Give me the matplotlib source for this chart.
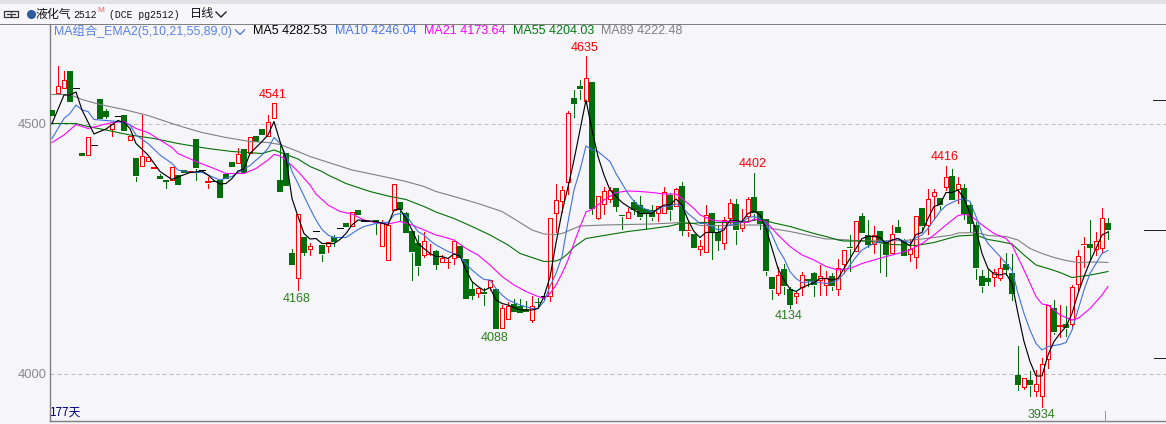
# -*- coding: utf-8 -*-
#%%
import matplotlib
matplotlib.use("Agg")
import matplotlib.pyplot as plt
from matplotlib.lines import Line2D
from matplotlib.patches import Rectangle

#%% ================= DATA =================
# Daily candles

opens = [4527,4562,4572,4605,4572,4440,4438,4458,4549,4525,
         4490,4516,4517,4468,4431,4416,4426,4408,4395,4386,
         4388,4397,4406,4401,4469,4407,4380,4386,4387,4398,
         4422,4422,4448,4442,4474,4489,4476,4512,4387,4440,
         4240,4192,4272,4250,4286,4257,4256,4272,4292,4301,
         4296,4327,4305,4305,4306,4256,4228,4328,4343,4321,
         4285,4260,4238,4236,4245,4224,4220,4232,4255,4229,
         4169,4162,4163,4174,4169,4092,4110,4138,4134,4128,
         4108,4142,4155,4155,4322,4346,4384,4551,4575,4545,
         4582,4312,4340,4350,4370,4316,4312,4342,4337,4328,
         4327,4322,4322,4356,4336,4375,4284,4279,4250,4244,
         4321,4282,4262,4312,4339,4292,4316,4352,4325,4309,
         4193,4161,4209,4169,4155,4174,4188,4201,4188,4178,
         4195,4169,4219,4253,4245,4315,4277,4260,4285,4262,
         4242,4292,4265,4240,4234,4330,4298,4356,4350,4374,
         4395,4370,4370,4337,4297,4195,4191,4194,4192,4219,
         4201,3997,3974,3987,3966,3956,4030,4131,4093,4098,
         4100,4180,4256,4259,4250,4252,4300]
closes = [4514,4575,4588,4542,4572,4435,4474,4458,4509,4513,
          4499,4516,4484,4476,4394,4435,4434,4412,4388,4383,
          4414,4377,4401,4404,4410,4407,4384,4386,4350,4389,
          4412,4439,4401,4474,4462,4476,4504,4541,4362,4374,
          4216,4320,4241,4256,4286,4238,4264,4262,4292,4292,
          4324,4316,4305,4305,4300,4301,4298,4380,4326,4280,
          4242,4214,4266,4238,4217,4232,4222,4265,4230,4148,
          4155,4172,4158,4188,4088,4131,4136,4122,4120,4122,
          4135,4140,4155,4312,4348,4368,4522,4539,4568,4592,
          4329,4355,4366,4368,4333,4314,4324,4326,4312,4320,
          4312,4336,4364,4326,4369,4285,4287,4250,4256,4318,
          4282,4265,4308,4342,4286,4304,4350,4320,4299,4204,
          4168,4198,4174,4137,4161,4198,4185,4176,4196,4192,
          4174,4212,4248,4250,4306,4280,4257,4278,4260,4237,
          4280,4281,4234,4250,4316,4294,4350,4364,4336,4394,
          4347,4380,4319,4299,4210,4174,4183,4204,4212,4207,
          4159,3977,3992,3976,3980,4020,4138,4082,4097,4090,
          4174,4236,4259,4251,4266,4312,4286]
highs = [4527,4615,4605,4605,4572,4440,4474,4458,4549,4529,
         4499,4516,4517,4476,4431,4517,4434,4412,4400,4386,
         4414,4397,4406,4404,4469,4407,4393,4386,4387,4398,
         4422,4452,4448,4474,4474,4489,4518,4541,4464,4440,
         4250,4320,4272,4261,4286,4257,4264,4278,4292,4301,
         4324,4327,4305,4305,4306,4308,4298,4380,4343,4323,
         4285,4278,4284,4259,4247,4238,4232,4265,4255,4229,
         4183,4172,4171,4188,4169,4138,4143,4150,4150,4146,
         4156,4151,4162,4312,4379,4375,4526,4568,4587,4635,
         4582,4355,4374,4374,4370,4316,4331,4347,4355,4328,
         4337,4336,4373,4362,4372,4383,4308,4279,4267,4337,
         4321,4298,4314,4349,4350,4330,4354,4402,4325,4309,
         4193,4213,4220,4174,4165,4204,4188,4204,4218,4205,
         4202,4230,4248,4278,4306,4322,4307,4295,4285,4268,
         4297,4307,4270,4270,4316,4330,4370,4370,4350,4416,
         4410,4394,4379,4344,4304,4208,4210,4210,4232,4242,
         4240,4055,3992,4005,4007,4032,4138,4147,4137,4135,
         4178,4248,4274,4307,4284,4332,4312]
lows = [4514,4562,4572,4542,4572,4435,4438,4458,4509,4511,
        4475,4516,4484,4468,4386,4416,4426,4408,4388,4372,
        4388,4377,4401,4401,4388,4407,4372,4386,4350,4389,
        4412,4422,4401,4442,4462,4476,4476,4512,4362,4374,
        4216,4167,4238,4238,4286,4226,4244,4255,4292,4292,
        4296,4316,4305,4305,4280,4256,4228,4328,4307,4280,
        4187,4197,4234,4236,4209,4224,4211,4220,4230,4148,
        4149,4154,4138,4167,4088,4092,4110,4122,4120,4122,
        4103,4134,4148,4145,4284,4324,4360,4513,4550,4545,
        4320,4309,4320,4344,4326,4290,4312,4320,4310,4290,
        4308,4306,4322,4307,4336,4277,4276,4250,4238,4244,
        4229,4247,4250,4298,4260,4286,4307,4308,4290,4197,
        4149,4157,4160,4132,4142,4158,4176,4155,4157,4158,
        4168,4157,4202,4205,4245,4280,4253,4242,4204,4196,
        4242,4281,4234,4226,4212,4285,4280,4310,4330,4367,
        4347,4342,4310,4284,4190,4164,4177,4176,4187,4197,
        4147,3967,3970,3955,3955,3934,4012,4079,4074,4075,
        4090,4164,4214,4228,4237,4242,4270]

# Moving average lines: candle number and price where the line was read
ma5_idx = [0,2,3,4,5,7,9,11,12,13,14,16,18,20,21,23,25,26,27,28,29,30,31,32,33,35,36,37,38,39,40,41,42,43,44,45,47,48,49,50,51,52,54,56,57,58,59,60,61,62,63,64,65,66,67,68,69,70,71,72,73,74,75,76,78,80,81,82,83,84,85,86,87,88,89,90,91,92,93,94,95,96,97,98,100,101,102,103,104,105,106,107,108,109,111,112,113,115,116,117,118,119,120,121,122,123,124,125,127,128,129,130,131,132,133,134,135,136,137,138,139,140,141,142,143,144,145,146,147,148,149,150,151,152,153,154,155,156,157,158,159,160,161,162,163,164,165,166,167,168,169,170,171,172,173,174,175,176]
ma5_val = [4500,4557,4557,4563,4527,4479,4489,4506,4502,4490,4460,4437,4404,4388,4393,4402,4405,4397,4386,4379,4380,4390,4405,4409,4440,4464,4477,4504,4464,4430,4350,4314,4280,4269,4270,4260,4260,4268,4280,4297,4307,4306,4304,4297,4327,4329,4310,4287,4260,4250,4240,4234,4234,4230,4239,4235,4207,4184,4174,4166,4172,4147,4140,4137,4127,4127,4130,4154,4193,4261,4323,4373,4427,4487,4547,4487,4434,4397,4367,4354,4342,4334,4327,4320,4320,4330,4337,4337,4349,4337,4307,4284,4272,4282,4282,4287,4307,4304,4320,4325,4317,4290,4250,4210,4187,4169,4164,4172,4182,4190,4190,4187,4190,4210,4230,4250,4270,4274,4274,4272,4260,4267,4270,4262,4256,4278,4282,4310,4334,4338,4362,4362,4367,4350,4320,4287,4240,4210,4199,4197,4200,4180,4120,4064,4024,3995,3995,4037,4064,4080,4094,4120,4160,4194,4224,4250,4277,4283]

ma10_idx = [0,2,3,4,5,6,7,9,11,13,14,16,18,20,21,23,25,26,28,30,31,33,35,36,37,38,39,40,41,43,44,45,46,47,49,50,51,52,54,55,56,57,58,59,60,61,62,63,64,66,67,68,69,70,71,72,73,74,75,76,78,80,81,82,83,84,85,86,87,88,89,90,91,92,93,94,95,96,97,98,100,101,102,103,104,105,106,107,108,109,110,111,112,113,115,116,117,118,119,120,121,122,123,124,125,127,129,130,131,132,133,134,135,136,137,138,139,141,142,143,144,145,146,147,148,149,150,151,152,153,154,155,156,158,160,161,162,163,164,165,166,167,168,169,170,171,172,173,174,175,176]
ma10_val = [4470,4510,4520,4537,4527,4524,4508,4506,4504,4497,4477,4460,4437,4420,4407,4402,4402,4397,4387,4394,4402,4416,4437,4450,4472,4460,4437,4404,4380,4330,4307,4288,4277,4272,4272,4280,4288,4294,4300,4302,4302,4317,4320,4317,4300,4284,4277,4266,4257,4244,4240,4235,4220,4207,4197,4188,4187,4170,4157,4147,4137,4130,4130,4144,4174,4200,4234,4303,4367,4407,4455,4448,4444,4434,4424,4400,4380,4360,4344,4334,4323,4328,4334,4335,4339,4334,4320,4310,4300,4300,4294,4287,4290,4298,4302,4312,4314,4310,4300,4277,4250,4230,4204,4190,4182,4184,4180,4182,4187,4200,4217,4233,4247,4254,4260,4264,4264,4270,4265,4262,4272,4277,4290,4307,4324,4336,4342,4347,4350,4344,4314,4280,4260,4234,4207,4160,4120,4087,4060,4047,4054,4056,4058,4062,4087,4127,4167,4200,4220,4240,4246]

ma21_idx = [0,2,4,6,8,10,12,14,16,18,20,21,24,27,29,32,34,36,37,38,39,41,43,44,46,48,50,52,54,56,58,60,62,64,65,67,69,71,73,75,77,79,81,82,83,84,85,86,87,88,89,90,92,94,96,98,100,102,104,105,107,108,110,112,114,116,117,119,121,123,125,127,129,131,133,135,137,139,141,143,145,147,149,151,152,153,155,157,159,160,162,164,165,166,168,170,171,173,175,176]
ma21_val = [4462,4477,4498,4490,4496,4502,4504,4490,4482,4467,4452,4440,4424,4410,4400,4400,4410,4427,4438,4435,4427,4404,4377,4359,4337,4324,4319,4307,4302,4299,4304,4297,4287,4277,4274,4267,4250,4237,4217,4194,4177,4164,4154,4150,4160,4177,4200,4227,4261,4293,4323,4328,4347,4362,4365,4364,4362,4359,4359,4350,4330,4317,4307,4304,4304,4302,4309,4304,4277,4254,4237,4227,4214,4207,4210,4220,4227,4234,4240,4247,4260,4277,4297,4316,4318,4317,4297,4280,4270,4257,4207,4154,4139,4137,4117,4107,4110,4130,4157,4174]

ma55_idx = [0,4,6,9,13,17,21,26,30,35,37,39,41,43,45,46,49,53,56,59,62,64,67,70,73,76,78,80,82,84,85,86,87,89,92,96,100,103,105,107,108,112,116,118,120,123,127,129,131,132,136,140,144,147,150,151,154,156,158,160,162,164,166,168,170,172,174,176]
ma55_val = [4500,4500,4494,4487,4477,4470,4460,4450,4444,4440,4447,4438,4429,4414,4404,4397,4380,4364,4355,4348,4334,4323,4310,4294,4277,4257,4240,4232,4224,4225,4230,4240,4253,4270,4276,4284,4290,4295,4301,4300,4302,4302,4304,4309,4302,4294,4280,4274,4267,4265,4265,4258,4256,4262,4272,4275,4277,4268,4264,4259,4237,4217,4210,4202,4192,4195,4199,4204]

ma89_idx = [0,3,5,8,12,16,21,25,29,33,36,38,41,43,50,52,56,59,62,64,67,71,75,78,80,82,84,85,86,87,88,92,100,105,107,108,112,116,118,120,123,127,129,130,134,138,142,145,147,150,151,154,156,159,161,163,165,167,169,171,174,176]
ma89_val = [4558,4558,4548,4538,4528,4516,4496,4482,4472,4464,4462,4458,4444,4434,4407,4402,4392,4384,4374,4364,4354,4340,4324,4302,4287,4279,4278,4280,4285,4290,4295,4297,4299,4302,4300,4296,4296,4297,4297,4290,4284,4274,4269,4269,4266,4265,4266,4269,4272,4277,4281,4282,4276,4274,4267,4250,4240,4232,4226,4222,4223,4222]

# High / low labels on the chart
peak_idx = [37,41,89,74,117,123,149,165]
peak_val = [4541,4168,4635,4088,4402,4134,4416,3934]
peak_up = [True,False,True,False,True,False,True,False]

price_ticks = [4000,4500]

legend_names = ["MA5 4282.53","MA10 4246.04","MA21 4173.64","MA55 4204.03","MA89 4222.48"]

#%% ================= STYLE =================

W, H = 1166, 424
BG = "#F5F5FA"
RED = "#FF0000"
GREEN = "#006F0B"
BLUE = "#3F6FDF"
MAGENTA = "#FF00FF"
LINE_GREEN = "#007000"
GREY = "#808080"
CN = ["Noto Sans CJK SC", "DejaVu Sans"]
NUM = ["Liberation Sans", "Noto Sans CJK SC"]
PX = 0.72  # one pixel in points

plt.rcParams["font.family"] = NUM

def fx(px):
    return px / W

def fy(py):
    return 1 - py / H

#%% Figure and axes

fig = plt.figure(figsize=(W / 100, H / 100), dpi=100, facecolor=BG)

ax = fig.add_axes([fx(49.5), fy(421), fx(1166 - 49.5), fy(23.5) - fy(421)])
ax.set_facecolor(BG)
ax.set_xlim((49.5 - 52) / 6, (1166 - 52) / 6)
ax.set_ylim(3905, 4700)
ax.set_xticks([])
ax.set_yticks(price_ticks)
ax.set_yticklabels([str(p) for p in price_ticks], fontsize=9.3, color="#8A8A8A")
ax.tick_params(axis="y", length=0, pad=2)
for side in ["top", "right"]:
    ax.spines[side].set_visible(False)
for side in ["left", "bottom"]:
    ax.spines[side].set_color("#808080")
    ax.spines[side].set_linewidth(1.4 * PX)

for p in price_ticks:
    ax.axhline(p, color="#BDBDBD", lw=PX, ls=(0, (4, 3)), zorder=1)

#%% Candles

for i in range(len(opens)):
    o, c, hi, lo = opens[i], closes[i], highs[i], lows[i]
    top, bot = max(o, c), min(o, c)

    if o == c:
        col = "black"
    elif c > o:
        col = RED
    else:
        col = GREEN

    if hi > top:
        ax.vlines(i, top, hi, color=col, lw=PX, zorder=2, antialiased=False)
    if lo < bot:
        ax.vlines(i, lo, bot, color=col, lw=PX, zorder=2, antialiased=False)

    if o == c:
        ax.hlines(c, i - 0.42, i + 0.42, color="black", lw=PX, zorder=3, antialiased=False)
    elif c > o and top - bot > 5:
        # hollow red body
        ax.vlines([i - 0.40, i + 0.40], bot, top, color=RED, lw=PX, zorder=3, antialiased=False)
        ax.hlines([bot, top], i - 0.40, i + 0.40, color=RED, lw=PX, zorder=3, antialiased=False)
    else:
        ax.add_patch(Rectangle((i - 0.46, bot), 0.92, top - bot, facecolor=col,
                               edgecolor="none", zorder=3, antialiased=False))

#%% Moving averages

ax.plot(ma89_idx, ma89_val, color=GREY, lw=1.1 * PX, zorder=4)
ax.plot(ma55_idx, ma55_val, color=LINE_GREEN, lw=1.1 * PX, zorder=4)
ax.plot(ma21_idx, ma21_val, color=MAGENTA, lw=1.1 * PX, zorder=4)
ax.plot(ma10_idx, ma10_val, color=BLUE, lw=1.1 * PX, zorder=5)
ax.plot(ma5_idx, ma5_val, color="black", lw=1.15 * PX, zorder=6)

#%% High / low labels

for i, v, up in zip(peak_idx, peak_val, peak_up):
    if up:
        ax.annotate(str(v), (i, highs[i]), xytext=(-1, 2), textcoords="offset pixels",
                    ha="center", va="bottom", fontsize=9, color=RED)
    else:
        ax.annotate(str(v), (i, lows[i]), xytext=(-1, -3), textcoords="offset pixels",
                    ha="center", va="top", fontsize=9, color="#2E7D1E")

fig.text(fx(50), fy(412), "177天", ha="left", va="center",
         fontsize=8.5, color="#000080", family=CN)

#%% Header and legend row

fig.add_artist(Rectangle((0, fy(4)), 1, fy(0) - fy(4), transform=fig.transFigure,
                         facecolor="#E1E2E7", edgecolor="none"))
fig.add_artist(Rectangle((0, fy(23.5)), 1, fy(4) - fy(23.5), transform=fig.transFigure,
                         facecolor="#F7F7FB", edgecolor="none"))
fig.add_artist(Line2D([0, 1], [fy(23.5), fy(23.5)], color="#808080", lw=PX))

# link icon
fig.add_artist(Rectangle((fx(4), fy(16.5)), fx(7), fy(11) - fy(16.5), transform=fig.transFigure,
                         facecolor="none", edgecolor="#333333", lw=0.9))
fig.add_artist(Rectangle((fx(11), fy(16.5)), fx(7), fy(11) - fy(16.5), transform=fig.transFigure,
                         facecolor="none", edgecolor="#333333", lw=0.9))
fig.add_artist(Line2D([fx(7), fx(15)], [fy(14), fy(14)], color=BG, lw=1.6))
fig.add_artist(Line2D([fx(7), fx(15)], [fy(14), fy(14)], color="#333333", lw=0.9))

fig.add_artist(Line2D([fx(31)], [fy(14)], marker="o", ms=5.5, color="#2F5C9E", ls="none"))

fig.text(fx(36), fy(14), "液化气", fontsize=8.6, family=CN, color="#111111", va="center")
fig.text(fx(73), fy(14.5), "2512", fontsize=7.1, family=["Liberation Mono"], color="#111111", va="center")
fig.text(fx(97), fy(11), "M", fontsize=6, color="#F06060", va="center")
fig.text(fx(109), fy(14.5), "(DCE pg2512)", fontsize=7.0, family=["Liberation Mono"], color="#111111", va="center")
fig.text(fx(190), fy(14), "日线", fontsize=8.7, family=CN, color="#111111", va="center")
fig.add_artist(Line2D([fx(216), fx(221), fx(226)], [fy(12), fy(17), fy(12)], color="#222222", lw=1.0))

fig.text(fx(54), fy(31), "MA组合_EMA2(5,10,21,55,89,0)", fontsize=8.9, family=NUM, color="#5A82E6", va="center")
fig.add_artist(Line2D([fx(235.5), fx(240), fx(244.5)], [fy(30), fy(34.5), fy(30)], color="#4A72D8", lw=0.9))

legend_x = [253, 335, 424, 513, 601]
legend_colors = ["black", "#4A78E8", MAGENTA, "#007A10", GREY]
for x, name, col in zip(legend_x, legend_names, legend_colors):
    fig.text(fx(x), fy(31), name, fontsize=9, color=col, va="center")

# marks on the right edge and at the bottom
fig.add_artist(Line2D([fx(1153), fx(1166)], [fy(100), fy(100)], color="#222222", lw=PX))
fig.add_artist(Line2D([fx(1144), fx(1166)], [fy(230), fy(230)], color="#222222", lw=PX))
fig.add_artist(Line2D([fx(1154), fx(1166)], [fy(358), fy(358)], color="#222222", lw=PX))
fig.add_artist(Line2D([fx(1105), fx(1105)], [fy(411), fy(421)], color="#999999", lw=PX))

fig.savefig("out.png", dpi=100, facecolor=BG)
